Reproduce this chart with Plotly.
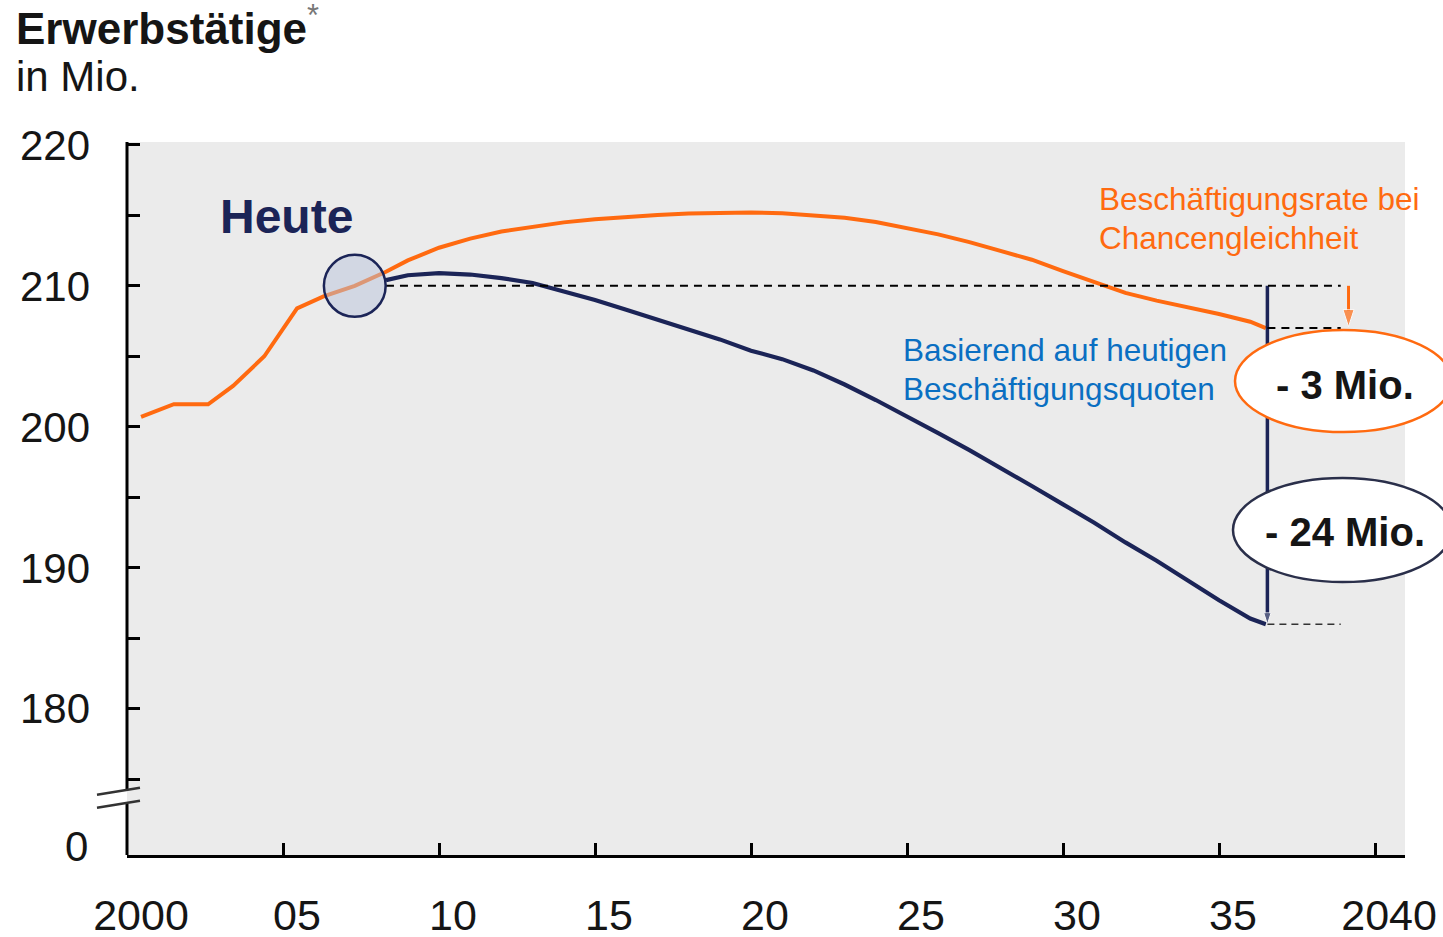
import plotly.graph_objects as go

# Erwerbstätige (Mio.), Szenario Chancengleichheit
orange_years = [2000.45, 2001.5, 2002.6, 2003.4, 2004.4, 2005.45, 2006.3, 2007.3, 2008.3, 2009,
                2010, 2011, 2012, 2013, 2014, 2015, 2016, 2017, 2018, 2019, 2020, 2021, 2022,
                2023, 2024, 2025, 2026, 2027, 2028, 2029, 2030, 2031, 2032, 2033, 2034, 2035,
                2036, 2036.5]
orange_values = [200.7, 201.6, 201.6, 202.9, 205.0, 208.4, 209.25, 210.0, 211.0, 211.8,
                 212.7, 213.35, 213.85, 214.2, 214.5, 214.72, 214.9, 215.02, 215.12, 215.18,
                 215.2, 215.15, 215.02, 214.82, 214.52, 214.12, 213.65, 213.1, 212.5, 211.85,
                 211.05, 210.25, 209.5, 208.95, 208.5, 208.0, 207.45, 207.0]

# Erwerbstätige (Mio.), heutige Beschäftigungsquoten
navy_years = [2008.3, 2009, 2010, 2011, 2012, 2013, 2014, 2015, 2016, 2017, 2018, 2019, 2020,
              2021, 2022, 2023, 2024, 2025, 2026, 2027, 2028, 2029, 2030, 2031, 2032, 2033,
              2034, 2035, 2036, 2036.5]
navy_values = [210.4, 210.75, 210.9, 210.8, 210.55, 210.2, 209.6, 209.0, 208.3, 207.6, 206.95,
               206.2, 205.4, 204.8, 204.0, 203.0, 201.9, 200.75, 199.55, 198.35, 197.1, 195.8,
               194.5, 193.2, 191.8, 190.5, 189.1, 187.7, 186.4, 186.0]

today_year, today_value = 2007.3, 210.0
end_year = 2036.55
end_orange, end_navy = 207.0, 186.0

x_tickvals = [2000, 2005, 2010, 2015, 2020, 2025, 2030, 2035, 2040]
x_ticktext = ["2000", "05", "10", "15", "20", "25", "30", "35", "2040"]
y_tickvals = [220, 210, 200, 190, 180]
y_ticktext = ["220", "210", "200", "190", "180"]
y_minor_tickvals = [215, 205, 195, 185, 175]

ORANGE = "#ff6a10"
NAVY = "#1b2457"
BLUE = "#0a6fc2"
FONT = "Liberation Sans, Arial, sans-serif"

W, H = 1443, 937
L, R, T, B = 127, 38, 142, 82
PW, PH = W - L - R, H - T - B
X_RANGE = [2000, 2040.96]
Y_RANGE = [169.63, 220.2]


def px(x):
    return (x - L) / PW


def py(y):
    return (H - B - y) / PH


fig = go.Figure()

fig.add_trace(go.Scatter(x=orange_years, y=orange_values, mode="lines",
                         line=dict(color=ORANGE, width=4), hoverinfo="skip"))
fig.add_trace(go.Scatter(x=navy_years, y=navy_values, mode="lines",
                         line=dict(color=NAVY, width=4.2), hoverinfo="skip"))

# gap arrows
fig.add_trace(go.Scatter(
    x=[end_year, end_year], y=[today_value, end_navy], mode="lines+markers",
    line=dict(color=NAVY, width=3.5),
    marker=dict(symbol=["circle", "arrow"], size=[0, 12], color=NAVY, angleref="previous"),
    hoverinfo="skip"))
fig.add_trace(go.Scatter(
    x=[2039.15, 2039.15], y=[today_value, end_orange + 0.1], mode="lines+markers",
    line=dict(color=ORANGE, width=3),
    marker=dict(symbol=["circle", "arrow"], size=[0, 18], color=ORANGE, angleref="previous"),
    hoverinfo="skip"))

shapes = []
# reference lines
shapes.append(dict(type="line", xref="x", yref="y", x0=2008.3, x1=2038.9,
                   y0=today_value, y1=today_value, line=dict(color="black", width=2, dash="8px,6px")))
shapes.append(dict(type="line", xref="x", yref="y", x0=end_year, x1=2038.9,
                   y0=end_orange, y1=end_orange, line=dict(color="black", width=2, dash="8px,6px")))
shapes.append(dict(type="line", xref="x", yref="y", x0=end_year, x1=2038.9,
                   y0=end_navy, y1=end_navy, line=dict(color="#333", width=1.6, dash="7px,5px")))

# y axis with break
shapes.append(dict(type="line", xref="paper", yref="y", x0=0, x1=0, y0=Y_RANGE[1], y1=174.3,
                   line=dict(color="black", width=3)))
shapes.append(dict(type="line", xref="paper", yref="y", x0=0, x1=0, y0=173.25, y1=Y_RANGE[0],
                   line=dict(color="black", width=3)))
shapes.append(dict(type="line", xref="paper", yref="y", x0=px(97), x1=px(140), y0=173.9, y1=174.4,
                   line=dict(color="#333", width=2.5)))
shapes.append(dict(type="line", xref="paper", yref="y", x0=px(97), x1=px(140), y0=172.98, y1=173.48,
                   line=dict(color="#333", width=2.5)))

# "Heute" marker
shapes.append(dict(type="circle", xref="x", yref="y", layer="above",
                   x0=today_year - 0.99, x1=today_year + 0.99,
                   y0=today_value - 2.2, y1=today_value + 2.2,
                   fillcolor="rgba(185,195,220,0.5)", line=dict(color=NAVY, width=2.5)))

# value bubbles
shapes.append(dict(type="circle", xref="paper", yref="paper", layer="above",
                   x0=px(1235), x1=px(1452), y0=py(432), y1=py(330),
                   fillcolor="white", line=dict(color=ORANGE, width=2.5)))
shapes.append(dict(type="circle", xref="paper", yref="paper", layer="above",
                   x0=px(1233), x1=px(1452), y0=py(582), y1=py(478),
                   fillcolor="white", line=dict(color="#2a2f4a", width=2.5)))

annotations = [
    dict(text="<b>Erwerbstätige</b><sup><span style='color:#777'>*</span></sup>",
         x=px(14), y=py(25), xanchor="left", yanchor="middle",
         font=dict(size=44, color="#151515")),
    dict(text="in Mio.", x=px(14), y=py(77), xanchor="left", yanchor="middle",
         font=dict(size=42, color="#151515")),
    dict(text="<b>Heute</b>", x=px(286), y=py(216), xanchor="center", yanchor="middle",
         font=dict(size=48, color=NAVY)),
    dict(text="Beschäftigungsrate bei", x=px(1097), y=py(199), xanchor="left", yanchor="middle",
         font=dict(size=31.5, color=ORANGE)),
    dict(text="Chancengleichheit", x=px(1097), y=py(238), xanchor="left", yanchor="middle",
         font=dict(size=31.5, color=ORANGE)),
    dict(text="Basierend auf heutigen", x=px(901), y=py(350), xanchor="left", yanchor="middle",
         font=dict(size=31.5, color=BLUE)),
    dict(text="Beschäftigungsquoten", x=px(901), y=py(389), xanchor="left", yanchor="middle",
         font=dict(size=31.5, color=BLUE)),
    dict(text="<b>- 3 Mio.</b>", x=px(1345), y=py(385), xanchor="center", yanchor="middle",
         font=dict(size=40, color="#151515")),
    dict(text="<b>- 24 Mio.</b>", x=px(1345), y=py(532), xanchor="center", yanchor="middle",
         font=dict(size=40, color="#151515")),
    dict(text="0", x=px(90), y=py(846), xanchor="right", yanchor="middle",
         font=dict(size=42, color="#151515")),
]
for a in annotations:
    a.update(xref="paper", yref="paper", showarrow=False)

fig.update_layout(
    width=W, height=H,
    margin=dict(l=L, r=R, t=T, b=B, pad=0, autoexpand=False),
    paper_bgcolor="white", plot_bgcolor="#ebebeb",
    showlegend=False,
    font=dict(family=FONT, color="#151515"),
    shapes=shapes, annotations=annotations,
    xaxis=dict(range=X_RANGE, tickvals=x_tickvals, ticktext=x_ticktext, automargin=False,
               ticks="inside", ticklen=12, tickwidth=2.5, tickcolor="black",
               showline=True, linecolor="black", linewidth=3, showgrid=False, zeroline=False,
               tickfont=dict(size=43, color="#151515"), ticklabelshift=14,
               ticklabelstandoff=20, fixedrange=True),
    yaxis=dict(range=Y_RANGE, tickvals=y_tickvals, ticktext=y_ticktext, automargin=False,
               ticks="inside", ticklen=13, tickwidth=3, tickcolor="black",
               minor=dict(tickvals=y_minor_tickvals, ticks="inside", ticklen=13,
                          tickwidth=3, tickcolor="black", showgrid=False),
               showline=False, showgrid=False, zeroline=False,
               tickfont=dict(size=42, color="#151515"), ticklabelstandoff=36,
               fixedrange=True),
)

fig.write_html("out.html", config={"displayModeBar": False})
